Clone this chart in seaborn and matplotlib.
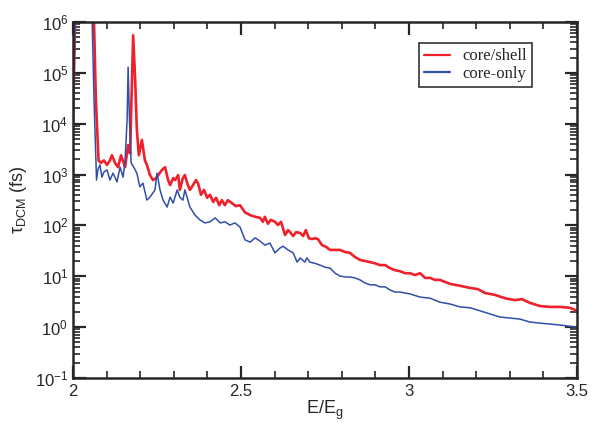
import numpy as np
import pandas as pd
import matplotlib
matplotlib.use('Agg')
import matplotlib.pyplot as plt
from matplotlib.ticker import LogLocator, MultipleLocator, NullFormatter
import seaborn as sns

sns.set_style('ticks')
plt.rcParams['font.family'] = ['Liberation Sans', 'DejaVu Sans']
plt.rcParams['mathtext.fontset'] = 'custom'
plt.rcParams['mathtext.rm'] = 'Liberation Sans'
plt.rcParams['mathtext.it'] = 'Liberation Sans:italic'
plt.rcParams['axes.unicode_minus'] = False

# (E/Eg, tau in fs)
shell_x = [2.000, 2.006, 2.012, 2.057, 2.0625, 2.068, 2.076, 2.083, 2.092, 2.101, 2.110, 2.116,
           2.125, 2.134, 2.143, 2.155, 2.164, 2.170, 2.174, 2.179, 2.185, 2.190, 2.196, 2.205,
           2.214, 2.220, 2.229, 2.238, 2.247, 2.265, 2.274, 2.283, 2.289, 2.298, 2.304, 2.313,
           2.318, 2.327, 2.333, 2.342, 2.348, 2.357, 2.366, 2.372, 2.381, 2.390, 2.399, 2.408,
           2.417, 2.426, 2.435, 2.443, 2.452, 2.461, 2.473, 2.485, 2.497, 2.512, 2.527, 2.542,
           2.557, 2.565, 2.571, 2.580, 2.589, 2.601, 2.610, 2.619, 2.631, 2.640, 2.646, 2.655,
           2.664, 2.676, 2.685, 2.693, 2.702, 2.711, 2.720, 2.729, 2.741, 2.753, 2.765, 2.780,
           2.795, 2.810, 2.824, 2.839, 2.854, 2.869, 2.884, 2.899, 2.914, 2.929, 2.943, 2.958,
           2.973, 2.988, 3.003, 3.018, 3.033, 3.048, 3.063, 3.077, 3.092, 3.122, 3.152, 3.182,
           3.205, 3.226, 3.256, 3.286, 3.315, 3.336, 3.360, 3.390, 3.420, 3.449, 3.479, 3.500]
shell_tau = [1e4, 1e6, 1e7, 1e7, 1e6, 3e4, 1.9e3, 1.7e3, 1.9e3, 1.55e3, 1.9e3, 2.4e3,
             1.7e3, 1.4e3, 2.4e3, 1.4e3, 3.8e3, 2.6e3, 3e4, 5.5e5, 7.2e4, 7.6e3, 2.4e3, 4.8e3,
             1.9e3, 1.55e3, 980, 780, 850, 1.24e3, 1.4e3, 780, 620, 850, 780, 980,
             500, 850, 980, 620, 500, 620, 780, 680, 400, 500, 350, 400,
             290, 350, 250, 315, 250, 315, 275, 240, 250, 180, 160, 148,
             141, 118, 148, 108, 129, 118, 102, 118, 65, 81, 74, 62,
             74, 71, 62, 81, 56, 54, 56, 54, 41, 38, 33, 33,
             33, 30, 29, 24, 21, 20, 19, 18, 16.6, 16.6, 14.5, 13.2,
             12.6, 11.5, 11.5, 10.6, 11.5, 9.3, 9.3, 8.5, 8.5, 7.1, 6.5, 5.9,
             5.6, 4.7, 4.3, 3.7, 3.4, 3.55, 3.0, 2.6, 2.5, 2.5, 2.4, 2.1]

only_x = [2.000, 2.006, 2.012, 2.051, 2.057, 2.0625, 2.070, 2.074, 2.080, 2.086, 2.092, 2.101,
          2.110, 2.119, 2.131, 2.140, 2.149, 2.155, 2.161, 2.164, 2.168, 2.173, 2.182, 2.190,
          2.199, 2.208, 2.220, 2.229, 2.244, 2.250, 2.259, 2.268, 2.280, 2.289, 2.298, 2.310,
          2.318, 2.327, 2.333, 2.342, 2.348, 2.363, 2.378, 2.393, 2.408, 2.423, 2.438, 2.452,
          2.467, 2.482, 2.497, 2.512, 2.527, 2.542, 2.557, 2.571, 2.586, 2.601, 2.616, 2.625,
          2.640, 2.655, 2.667, 2.676, 2.690, 2.696, 2.705, 2.720, 2.735, 2.750, 2.765, 2.780,
          2.795, 2.810, 2.824, 2.839, 2.854, 2.869, 2.884, 2.899, 2.914, 2.929, 2.943, 2.958,
          2.973, 3.003, 3.033, 3.063, 3.092, 3.122, 3.152, 3.182, 3.211, 3.241, 3.271, 3.301,
          3.330, 3.360, 3.390, 3.420, 3.449, 3.500]
only_tau = [1e4, 1e6, 1e7, 1e7, 1e6, 3e4, 780, 1.24e3, 1.55e3, 890, 1.12e3, 1.24e3,
            780, 1.07e3, 720, 1.4e3, 890, 1.9e3, 1.2e4, 1.3e5, 1.2e4, 1.7e3, 1.35e3, 1.07e3,
            575, 680, 315, 360, 500, 1.07e3, 500, 315, 230, 360, 275, 500,
            360, 315, 500, 315, 230, 160, 128, 112, 118, 141, 112, 118,
            102, 112, 93, 52, 47, 57, 49, 41, 45, 29, 36, 39,
            33, 29, 19, 23, 19, 23, 19, 18, 16.6, 15.1, 14.5, 11.5,
            10.1, 9.7, 9.7, 9.3, 8.5, 7.4, 6.8, 6.8, 6.2, 6.2, 5.4, 4.9,
            4.9, 4.5, 3.9, 3.7, 3.1, 2.85, 2.5, 2.4, 2.1, 1.82, 1.58, 1.51,
            1.44, 1.26, 1.2, 1.15, 1.1, 1.0]

y_ticks = [1e-1, 1e0, 1e1, 1e2, 1e3, 1e4, 1e5, 1e6]
y_labels = ['10$^{-1}$', '10$^{0}$', '10$^{1}$', '10$^{2}$', '10$^{3}$', '10$^{4}$',
            '10$^{5}$', '10$^{6}$']

df = pd.concat([
    pd.DataFrame({'E': shell_x, 'tau': shell_tau, 'series': 'core/shell'}),
    pd.DataFrame({'E': only_x, 'tau': only_tau, 'series': 'core-only'}),
])

fig = plt.figure(figsize=(5.97, 4.24), dpi=100)
ax = fig.add_axes([0.1223, 0.1085, 0.8442, 0.8395])

palette = {'core/shell': '#f0202a', 'core-only': '#2f4fa8'}
sns.lineplot(data=df, x='E', y='tau', hue='series', size='series',
             sizes={'core/shell': 1.9, 'core-only': 1.1}, palette=palette,
             estimator=None, sort=False, ax=ax)

ax.set_yscale('log')
ax.set_xlim(2, 3.5)
ax.set_ylim(1e-1, 1e6)

ax.set_xticks([2, 2.5, 3, 3.5])
ax.set_xticklabels(['2', '2.5', '3', '3.5'])
ax.xaxis.set_minor_locator(MultipleLocator(0.1))
ax.set_yticks(y_ticks)
ax.set_yticklabels(y_labels)
ax.yaxis.set_minor_locator(LogLocator(base=10, subs=np.arange(2, 10), numticks=20))
ax.yaxis.set_minor_formatter(NullFormatter())

ax.tick_params(which='both', direction='in', top=True, right=True, labelsize=12, width=1.6)
ax.tick_params(which='major', length=9)
ax.tick_params(which='minor', length=5, width=1.2)
ax.tick_params(axis='x', pad=4)
for s in ax.spines.values():
    s.set_linewidth(1.8)

ax.set_xlabel('E/E$_\\mathregular{g}$', fontsize=13, labelpad=0)
ax.set_ylabel('$\\mathregular{\\tau_{DCM}}$ (fs)', fontsize=13, labelpad=4)

leg = ax.legend(loc='upper right', bbox_to_anchor=(0.91, 0.94), frameon=True, fancybox=False,
                prop={'family': 'Liberation Serif', 'size': 12}, handlelength=1.6,
                borderpad=0.3, labelspacing=0.1, handletextpad=0.7, borderaxespad=0)
leg.get_frame().set_edgecolor('black')
leg.get_frame().set_linewidth(1.2)
for h in leg.get_lines():
    h.set_linewidth(1.6)

fig.savefig('out.png', dpi=100)
